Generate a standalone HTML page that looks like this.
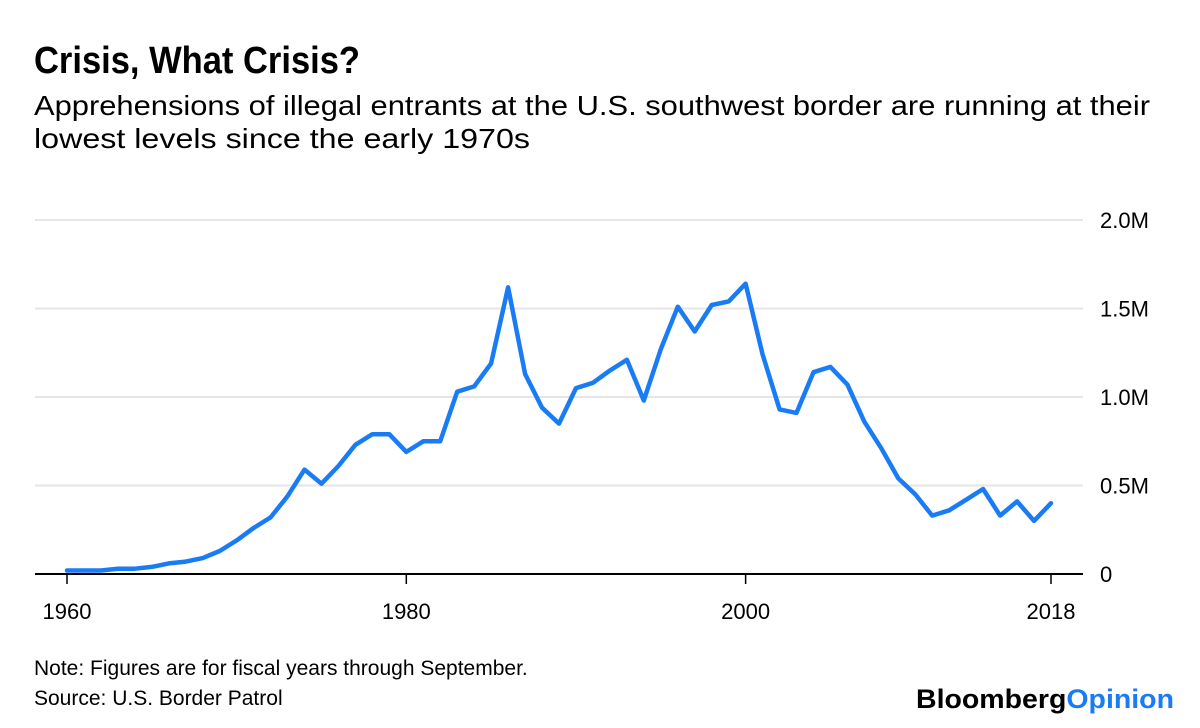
<!DOCTYPE html>
<html><head><meta charset="utf-8"><style>
body{margin:0;background:#fff;}
svg{display:block;font-family:"Liberation Sans",Arial,sans-serif;}
</style></head><body>
<svg id="chart" width="1200" height="728" viewBox="0 0 1200 728">
<text x="34" y="73" font-size="38" font-weight="bold" fill="#000" textLength="326" lengthAdjust="spacingAndGlyphs">Crisis, What Crisis?</text>
<text x="34" y="115" font-size="27.5" fill="#000" textLength="1116" lengthAdjust="spacingAndGlyphs">Apprehensions of illegal entrants at the U.S. southwest border are running at their</text>
<text x="34" y="148" font-size="27.5" fill="#000" textLength="496" lengthAdjust="spacingAndGlyphs">lowest levels since the early 1970s</text>
<g id="grid"></g>
<g id="yticks"></g>
<g id="xaxis"></g>
<path id="line" fill="none" stroke="#1a7cf5" stroke-width="4.5" stroke-linejoin="round" stroke-linecap="round"></path>
<text x="34" y="675" font-size="21" fill="#000">Note: Figures are for fiscal years through September.</text>
<text x="34" y="705" font-size="21" fill="#000">Source: U.S. Border Patrol</text>
<text x="916" y="708" font-size="27" font-weight="bold" textLength="258" lengthAdjust="spacingAndGlyphs"><tspan fill="#000">Bloomberg</tspan><tspan fill="#1a7cf5">Opinion</tspan></text>
</svg>
<script>
const years=[1960,1961,1962,1963,1964,1965,1966,1967,1968,1969,1970,1971,1972,1973,1974,1975,1976,1977,1978,1979,1980,1981,1982,1983,1984,1985,1986,1987,1988,1989,1990,1991,1992,1993,1994,1995,1996,1997,1998,1999,2000,2001,2002,2003,2004,2005,2006,2007,2008,2009,2010,2011,2012,2013,2014,2015,2016,2017,2018];
const values=[0.02,0.02,0.02,0.03,0.03,0.04,0.06,0.07,0.09,0.13,0.19,0.26,0.32,0.44,0.59,0.51,0.61,0.73,0.79,0.79,0.69,0.75,0.75,1.03,1.06,1.19,1.62,1.13,0.94,0.85,1.05,1.08,1.15,1.21,0.98,1.27,1.51,1.37,1.52,1.54,1.64,1.24,0.93,0.91,1.14,1.17,1.07,0.86,0.71,0.54,0.45,0.33,0.36,0.42,0.48,0.33,0.41,0.30,0.40];
const yTicks=[0,0.5,1.0,1.5,2.0];
const yTickLabels=["0","0.5M","1.0M","1.5M","2.0M"];
const xTicks=[1960,1980,2000,2018];
const NS="http://www.w3.org/2000/svg";
const x=v=>67+(v-1960)*(1051-67)/58;
const y=v=>574-v*(574-220)/2;
const grid=document.getElementById('grid'),yt=document.getElementById('yticks'),xa=document.getElementById('xaxis');
yTicks.forEach((t,i)=>{
  if(t>0){const l=document.createElementNS(NS,'line');
  
  
  l.setAttribute('x1',35);l.setAttribute('x2',1083);l.setAttribute('y1',y(t));l.setAttribute('y2',y(t));
  l.setAttribute('stroke','#e6e6e6');l.setAttribute('stroke-width','2');grid.appendChild(l);}
  const tx=document.createElementNS(NS,'text');
  
  
  tx.setAttribute('x',1100);tx.setAttribute('y',y(t)+8);tx.setAttribute('font-size','22');
  tx.textContent=yTickLabels[i];yt.appendChild(tx);
});
const ax=document.createElementNS(NS,'line');


ax.setAttribute('x1',35);ax.setAttribute('x2',1083);ax.setAttribute('y1',574);ax.setAttribute('y2',574);
ax.setAttribute('stroke','#000');ax.setAttribute('stroke-width','2');xa.appendChild(ax);
xTicks.forEach(t=>{
  const l=document.createElementNS(NS,'line');
  
  
  l.setAttribute('x1',x(t));l.setAttribute('x2',x(t));l.setAttribute('y1',574);l.setAttribute('y2',584);
  l.setAttribute('stroke','#000');l.setAttribute('stroke-width','1.5');xa.appendChild(l);
  const tx=document.createElementNS(NS,'text');
  
  
  tx.setAttribute('x',x(t));tx.setAttribute('y',619);tx.setAttribute('font-size','22');tx.setAttribute('text-anchor','middle');
  tx.textContent=t;xa.appendChild(tx);
});
document.getElementById('line').setAttribute('d',years.map((yr,i)=>(i?'L':'M')+x(yr).toFixed(1)+','+y(values[i]).toFixed(1)).join(''));
</script>
</body></html>
